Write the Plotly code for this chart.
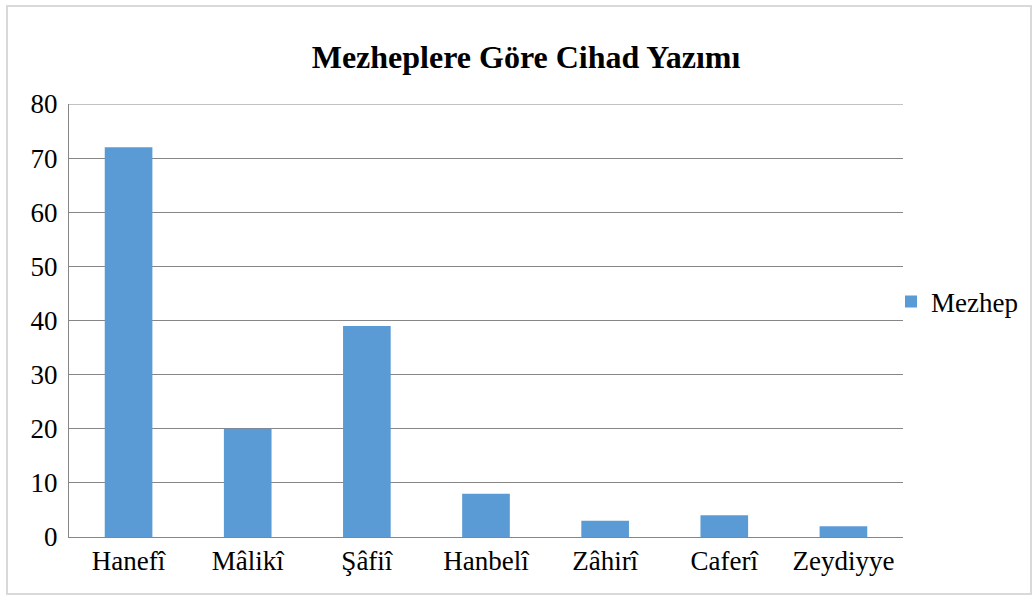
import plotly.graph_objects as go

categories = ["Hanefî", "Mâlikî", "Şâfiî", "Hanbelî", "Zâhirî", "Caferî", "Zeydiyye"]
values = [72, 20, 39, 8, 3, 4, 2]
series_name = "Mezhep"
title_text = "Mezheplere Göre Cihad Yazımı"
y_ticks = [0, 10, 20, 30, 40, 50, 60, 70, 80]

W, H = 1033, 595
L, R, T, B = 69, 1033 - 903, 104, 595 - 537
pw, ph = W - L - R, H - T - B

def px_x(x):
    return (x - L) / pw

def px_y(y):
    return (H - B - y) / ph

fig = go.Figure()
fig.add_trace(go.Bar(
    x=categories, y=values, name=series_name,
    marker=dict(color="#5B9BD5", line=dict(width=0)),
    width=0.4,
))

font_family = "Liberation Serif, Times New Roman, serif"

fig.update_layout(
    width=W, height=H,
    margin=dict(l=L, r=R, t=T, b=B, autoexpand=False),
    paper_bgcolor="white", plot_bgcolor="white",
    font=dict(family=font_family, size=27, color="#000000"),
    title=dict(text="<b>" + title_text + "</b>", x=526 / W, xanchor="center",
               xref="container", y=1 - 57 / H, yanchor="middle",
               font=dict(family=font_family, size=32, color="#000000")),
    showlegend=True,
    legend=dict(xref="container", yref="container", x=891 / W, y=1 - 302 / H,
                xanchor="left", yanchor="middle",
                font=dict(family=font_family, size=27, color="#000000"),
                bgcolor="rgba(0,0,0,0)", itemwidth=30, traceorder="normal"),
    xaxis=dict(showgrid=False, showline=True, linecolor="#868686", linewidth=1,
               ticks="", tickfont=dict(family=font_family, size=27),
               range=[-0.5, 6.5], fixedrange=True),
    yaxis=dict(range=[0, 80], tickvals=y_ticks, showgrid=True, gridcolor="#868686",
               gridwidth=1, showline=True, linecolor="#868686", linewidth=1,
               ticks="", zeroline=False, tickfont=dict(family=font_family, size=27),
               ticklabelstandoff=5, fixedrange=True),
    bargap=0.6,
)

fig.add_shape(type="line", xref="paper", yref="y", x0=0, x1=1, y0=y_ticks[-1], y1=y_ticks[-1],
              line=dict(color="#868686", width=1), layer="below")

fig.add_shape(type="rect", xref="paper", yref="paper",
              x0=px_x(7), x1=px_x(1031), y0=px_y(594), y1=px_y(6),
              line=dict(color="#D9D9D9", width=2), fillcolor="rgba(0,0,0,0)", layer="below")

fig.write_html("out.html", config={"displayModeBar": False},
               post_script="document.body.style.margin='0';")
